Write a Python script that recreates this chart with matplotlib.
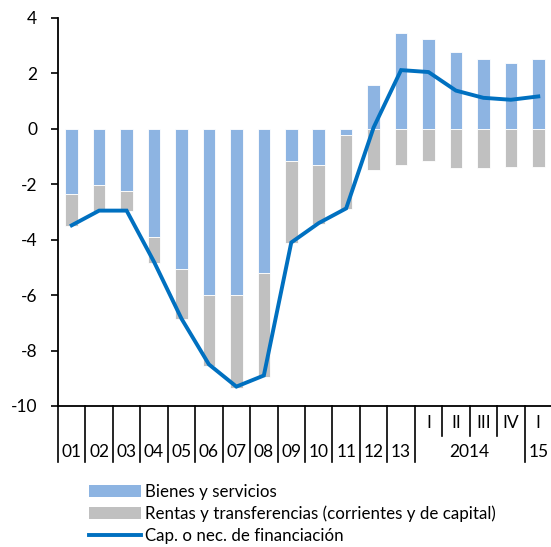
import matplotlib
matplotlib.use("Agg")
import matplotlib.pyplot as plt
from matplotlib.lines import Line2D
from matplotlib.patches import Patch
import numpy as np

plt.rcParams['font.family'] = ['Lato', 'DejaVu Sans']
plt.rcParams['axes.unicode_minus'] = False

year_labels = ["01", "02", "03", "04", "05", "06", "07", "08", "09", "10", "11", "12", "13", "", "", "", "", "15"]
quarter_labels = ["", "", "", "", "", "", "", "", "", "", "", "", "", "I", "II", "III", "IV", "I"]
group_label = "2014"

bienes = [-2.36, -2.04, -2.24, -3.92, -5.05, -6.0, -6.0, -5.19, -1.15, -1.3, -0.22,
          1.57, 3.45, 3.25, 2.79, 2.52, 2.39, 2.52]
rentas = [-1.13, -0.91, -0.73, -0.93, -1.8, -2.55, -3.36, -3.76, -2.97, -2.15, -2.68,
          -1.49, -1.3, -1.16, -1.43, -1.43, -1.36, -1.36]
capnec = [-3.48, -2.95, -2.95, -4.8, -6.85, -8.5, -9.3, -8.9, -4.1, -3.4, -2.87,
          0.05, 2.12, 2.05, 1.38, 1.12, 1.05, 1.17]

c_blue = "#8db4e2"
c_gray = "#c0c0c0"
c_line = "#0070c0"

fig = plt.figure(figsize=(5.51, 5.47), dpi=100)
W, H = 551, 547
ax = fig.add_axes([58 / W, 1 - 406 / H, (552 - 58) / W, (406 - 18) / H])

n = len(bienes)
x = np.arange(n)
b = np.array(bienes)
r = np.array(rentas)
# stacking: rentas below bienes when bienes negative, from zero when bienes positive
r_bottom = np.where(b < 0, b, 0.0)
ax.bar(x, b, width=0.46, color=c_blue, edgecolor="white", linewidth=0.6, zorder=2)
ax.bar(x, r, bottom=r_bottom, width=0.46, color=c_gray, edgecolor="white", linewidth=0.6, zorder=2)
ax.plot(x, capnec, color=c_line, lw=2.8, zorder=3, solid_joinstyle='miter')

ax.set_xlim(-0.5, n - 0.5)
ax.set_ylim(-10, 4)
ax.set_yticks(np.arange(-10, 5, 2))
ax.set_yticklabels([str(v) for v in range(-10, 5, 2)])
ax.tick_params(axis='y', direction='out', length=5, width=1.2, labelsize=12.5, pad=10, colors='black')
ax.tick_params(axis='x', length=0, labelbottom=False)
for s in ['top', 'right']:
    ax.spines[s].set_visible(False)
ax.spines['left'].set_linewidth(1.3)
ax.spines['bottom'].set_linewidth(1.3)

trans = ax.get_xaxis_transform()
ax_h_px = 406 - 18
def ay(px_below):
    return -px_below / ax_h_px

# separators
for k in range(n):
    bx = k - 0.5
    if k in (14, 15, 16):
        y_end = ay(436 - 406)
    else:
        y_end = ay(462 - 406)
    ax.plot([bx, bx], [0, y_end], transform=trans, color='black', lw=1.2, clip_on=False)

for i in range(n):
    if year_labels[i]:
        ax.text(i, ay(452 - 406), year_labels[i], transform=trans, ha='center', va='center',
                fontsize=12.5, clip_on=False)
    if quarter_labels[i]:
        ax.text(i, ay(423 - 406), quarter_labels[i], transform=trans, ha='center', va='center',
                fontsize=12.5, clip_on=False)
ax.text(14.5, ay(452 - 406), group_label, transform=trans, ha='center', va='center',
        fontsize=12.5, clip_on=False)

handles = [Patch(facecolor=c_blue, edgecolor='none'),
           Patch(facecolor=c_gray, edgecolor='none'),
           Line2D([0], [0], color=c_line, lw=2.8)]
labels = ["Bienes y servicios", "Rentas y transferencias (corrientes y de capital)",
          "Cap. o nec. de financiación"]
fig.legend(handles, labels, loc='upper left', bbox_to_anchor=(89 / W, 1 - 484 / H),
           frameon=False, fontsize=12.2, handlelength=3.05, handletextpad=0.28,
           labelspacing=0.33, borderpad=0, borderaxespad=0)

fig.savefig("out.png", dpi=100)
